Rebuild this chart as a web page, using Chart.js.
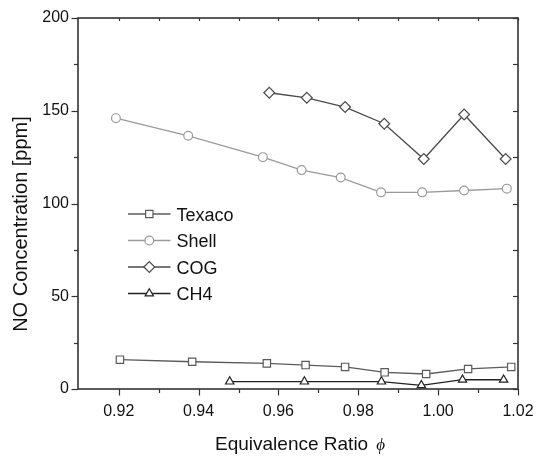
<!DOCTYPE html>
<html>
<head>
<meta charset="utf-8">
<script src="https://cdn.jsdelivr.net/npm/chart.js@4/dist/chart.umd.min.js"></script>
<style>
  html, body { margin: 0; padding: 0; background: #fff; }
  #wrap { width: 537px; height: 458px; }
</style>
</head>
<body>
<div id="wrap"><canvas id="c" width="537" height="458"></canvas></div>
<script>
// ---- data ----
const seriesNames = ['Texaco', 'Shell', 'COG', 'CH4'];

const texacoX = [0.9203, 0.9384, 0.9571, 0.9668, 0.9767, 0.9866, 0.9970, 1.0075, 1.0183];
const texacoY = [15.8, 14.7, 13.8, 12.9, 11.9, 9.0, 8.1, 10.8, 11.9];

const shellX = [0.9193, 0.9374, 0.9561, 0.9658, 0.9756, 0.9857, 0.9960, 1.0065, 1.0172];
const shellY = [146, 136.5, 125, 118, 114, 106, 106, 107, 108];

const cogX = [0.9577, 0.9671, 0.9767, 0.9865, 0.9964, 1.0065, 1.0169];
const cogY = [159.7, 157, 152, 143, 124, 148, 124];

const ch4X = [0.9478, 0.9665, 0.9858, 0.9958, 1.0061, 1.0164];
const ch4Y = [4, 4, 4, 2, 5, 5];

const xTicks = [0.92, 0.93, 0.94, 0.95, 0.96, 0.97, 0.98, 0.99, 1.00, 1.01, 1.02];
const xTickLabels = ['0.92', '', '0.94', '', '0.96', '', '0.98', '', '1.00', '', '1.02'];
const yTicks = [0, 25, 50, 75, 100, 125, 150, 175, 200];
const yTickLabels = ['0', '', '50', '', '100', '', '150', '', '200'];

const xTitle = 'Equivalence Ratio';
const xTitleSymbol = '\u03D5';
const yTitle = 'NO Concentration [ppm]';

// ---- helpers ----
const pts = (xs, ys) => xs.map((x, i) => ({ x: x, y: ys[i] }));
const FONT = '"Liberation Sans", Arial, sans-serif';

const styles = [
  { color: '#5a5a5a', pointStyle: 'rect', radius: 5.2 },
  { color: '#9a9a9a', pointStyle: 'circle', radius: 4.4 },
  { color: '#4a4a4a', pointStyle: 'rectRot', radius: 5.4 },
  { color: '#222222', pointStyle: 'triangle', radius: 4.8 }
];
const seriesData = [pts(texacoX, texacoY), pts(shellX, shellY), pts(cogX, cogY), pts(ch4X, ch4Y)];

const datasets = seriesNames.map((name, i) => ({
  label: name,
  data: seriesData[i],
  borderColor: styles[i].color,
  borderWidth: 1.3,
  pointStyle: styles[i].pointStyle,
  pointRadius: styles[i].radius,
  pointBorderColor: styles[i].color,
  pointBackgroundColor: '#ffffff',
  pointBorderWidth: 1.2,
  tension: 0,
  fill: false,
  showLine: true
}));

// frame + tick marks
const framePlugin = {
  id: 'frame',
  beforeDatasetsDraw(chart) {
    const { ctx, chartArea: a, scales: { x, y } } = chart;
    ctx.save();
    ctx.strokeStyle = '#333';
    ctx.lineWidth = 1.2;
    const seg = (x1, y1, x2, y2) => { ctx.beginPath(); ctx.moveTo(x1, y1); ctx.lineTo(x2, y2); ctx.stroke(); };
    xTicks.forEach((v, i) => {
      const px = Math.round(x.getPixelForValue(v)) + 0.5;
      const major = xTickLabels[i] !== '';
      seg(px, a.bottom, px, a.bottom + (major ? 6.5 : 4));
      seg(px, a.top, px, a.top + 3);
    });
    yTicks.forEach((v, i) => {
      const py = Math.round(y.getPixelForValue(v)) + 0.5;
      const major = yTickLabels[i] !== '';
      seg(a.left, py, a.left - (major ? 6.5 : 4), py);
      seg(a.right, py, a.right - 5, py);
    });
    ctx.lineWidth = 1.6;
    ctx.strokeRect(a.left, a.top, a.right - a.left, a.bottom - a.top);
    ctx.restore();
  }
};

// titles + legend
const textPlugin = {
  id: 'texts',
  afterDraw(chart) {
    const { ctx, chartArea: a } = chart;
    ctx.save();
    ctx.fillStyle = '#111';
    // x title
    ctx.font = '19px ' + FONT;
    const wMain = ctx.measureText(xTitle).width;
    ctx.font = 'italic 17px "Liberation Serif", "DejaVu Serif", serif';
    const wSym = ctx.measureText(xTitleSymbol).width;
    const gap = 8;
    const cx = (a.left + a.right) / 2 + 2;
    const startX = cx - (wMain + gap + wSym) / 2;
    ctx.textAlign = 'left';
    ctx.textBaseline = 'alphabetic';
    ctx.font = '19px ' + FONT;
    ctx.fillText(xTitle, startX, 450);
    ctx.font = 'italic 17px "Liberation Serif", "DejaVu Serif", serif';
    ctx.fillText(xTitleSymbol, startX + wMain + gap, 450);
    // y title
    ctx.save();
    ctx.translate(26.5, 224);
    ctx.rotate(-Math.PI / 2);
    ctx.textAlign = 'center';
    ctx.font = '20px ' + FONT;
    ctx.fillText(yTitle, 0, 0);
    ctx.restore();
    // legend
    const lx0 = a.left + 50, lx1 = a.left + 92.5, mx = a.left + 71.3, tx = a.left + 98.5;
    const rowY0 = 214, rowStep = 26.5;
    chart.data.datasets.forEach((ds, i) => {
      const ry = rowY0 + i * rowStep;
      ctx.strokeStyle = ds.borderColor;
      ctx.lineWidth = 1.3;
      ctx.beginPath(); ctx.moveTo(lx0, ry); ctx.lineTo(lx1, ry); ctx.stroke();
      ctx.fillStyle = '#ffffff';
      ctx.strokeStyle = ds.pointBorderColor;
      ctx.lineWidth = ds.pointBorderWidth;
      Chart.helpers.drawPoint(ctx, { pointStyle: ds.pointStyle, radius: ds.pointRadius, rotation: 0, borderWidth: ds.pointBorderWidth }, mx, ry);
      ctx.fillStyle = '#111';
      ctx.font = '18px ' + FONT;
      ctx.textAlign = 'left';
      ctx.textBaseline = 'alphabetic';
      ctx.fillText(ds.label, tx, ry + 6.5);
    });
    ctx.restore();
  }
};

new Chart(document.getElementById('c'), {
  type: 'line',
  data: { datasets: datasets },
  plugins: [framePlugin, textPlugin],
  options: {
    responsive: false,
    animation: false,
    layout: { padding: { top: 18, right: 19, left: 0, bottom: 0 } },
    plugins: { legend: { display: false }, tooltip: { enabled: false }, title: { display: false } },
    scales: {
      x: {
        type: 'linear',
        min: 0.9098,
        max: 1.02,
        afterBuildTicks: s => { s.ticks = xTicks.map(v => ({ value: v })); },
        afterFit: s => { s.height = 69; s.paddingLeft = 0; s.paddingRight = 0; },
        grid: { display: false, drawTicks: false },
        border: { display: false },
        ticks: {
          autoSkip: false, maxRotation: 0, padding: 13,
          color: '#111', font: { family: FONT, size: 16 },
          callback: (v, i) => xTickLabels[i]
        }
      },
      y: {
        type: 'linear',
        min: 0,
        max: 200,
        afterBuildTicks: s => { s.ticks = yTicks.map(v => ({ value: v })); },
        afterFit: s => { s.width = 78; s.paddingTop = 0; s.paddingBottom = 0; },
        grid: { display: false, drawTicks: false },
        border: { display: false },
        ticks: {
          autoSkip: false, padding: 9,
          color: '#111', font: { family: FONT, size: 16 },
          callback: (v, i) => yTickLabels[i]
        }
      }
    }
  }
});
</script>
</body>
</html>
